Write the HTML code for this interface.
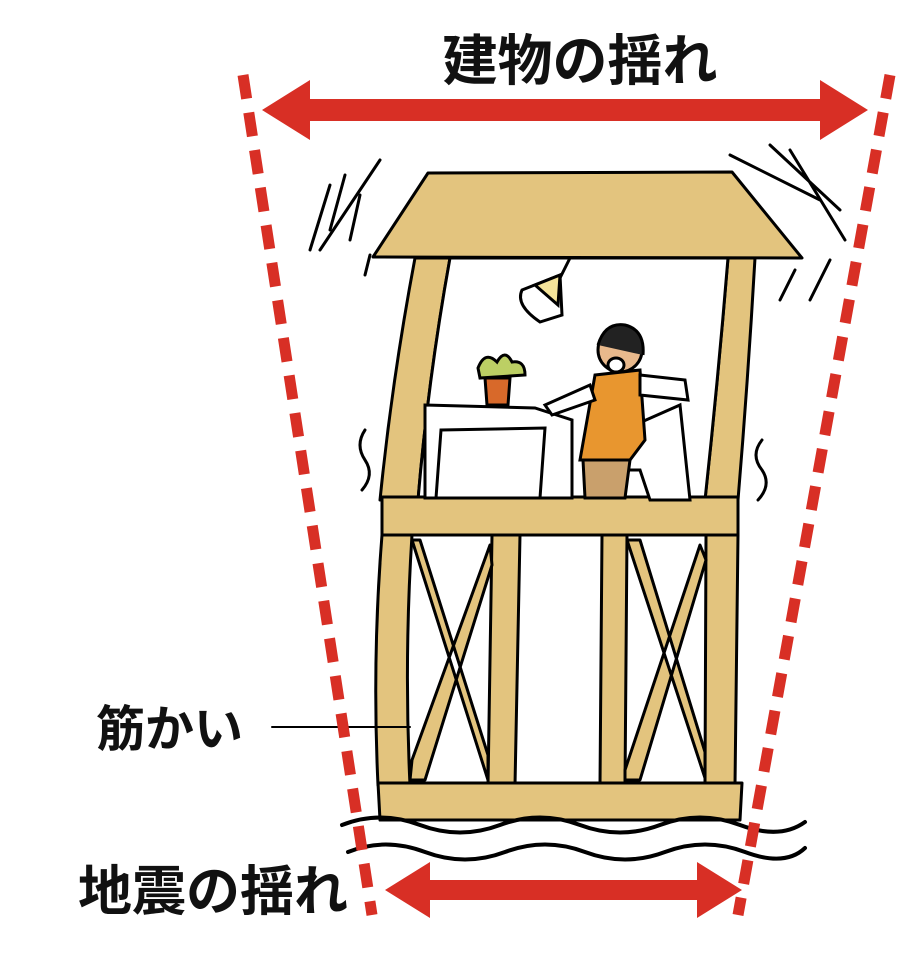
<!DOCTYPE html>
<html><head><meta charset="utf-8"><style>
html,body{margin:0;padding:0;background:#fff;}
svg{display:block}
text{font-family:"Liberation Sans","Noto Sans CJK JP",sans-serif;font-weight:bold;fill:#111}
</style></head><body>
<svg width="906" height="956" viewBox="0 0 906 956" xmlns="http://www.w3.org/2000/svg">
<g stroke="#000" stroke-width="3" stroke-linejoin="round" fill="#e3c47e">
<path d="M415,258 Q392,380 380,500 L418,500 Q428,380 450,258 Z"/>
<path d="M728,258 Q718,380 705,500 L738,500 Q748,380 755,258 Z"/>
<path d="M450,258 Q428,380 418,500 L705,500 Q718,380 728,258 Z" fill="#fff"/>
<path d="M428,173 L732,172 L802,258 L373,257 Z"/>
<path d="M382,535 Q372,660 378,785 L410,785 Q404,660 412,535 Z"/>
<path d="M492,535 L488,785 L515,785 L520,535 Z"/>
<path d="M602,535 L600,785 L625,785 L627,535 Z"/>
<path d="M706,535 L705,785 L735,785 L738,535 Z"/>
<path d="M412,540 L488,780 L488,755 L420,540 Z M412,760 L490,545 L492,565 L425,780 L410,780 Z"/>
<path d="M627,540 L705,778 L705,752 L640,540 Z M625,770 L700,545 L706,560 L640,780 L625,780 Z"/>
<rect x="382" y="497" width="356" height="38"/>
<path d="M378,783 L742,783 L740,820 L380,820 Z"/>
</g>
<g stroke="#000" stroke-width="3" fill="#fff">
<path d="M425,405 L535,408 L572,420 L572,498 L425,498 Z"/>
<path d="M441,430 L545,428 L540,498 L436,498 Z"/>
<path d="M485,378 L510,378 L508,405 L487,405 Z" fill="#d8692a"/>
<path d="M478,368 Q485,350 497,362 Q505,348 512,362 Q525,360 525,375 L480,378 Z" fill="#bccf64"/>
<path d="M522,290 L560,275 L562,315 L540,322 Q515,305 522,290 Z" fill="#fff"/>
<path d="M535,285 L560,275 L558,305 Z" fill="#f5e49a"/>
<path d="M570,258 L560,278" fill="none"/>
<path d="M612,435 L680,405 L690,500 L650,500 L640,470 L618,470 Z" fill="#fff"/>
<path d="M595,375 L640,370 L645,440 L630,460 L580,460 Z" fill="#e8962f"/>
<path d="M583,460 L630,460 L625,498 L585,498 Z" fill="#c9a06c"/>
<circle cx="620" cy="350" r="22" fill="#e9b98c"/>
<path d="M598,345 Q605,322 625,325 Q645,330 643,355" fill="#222"/>
<ellipse cx="616" cy="365" rx="8" ry="7"/>
<path d="M640,375 L685,380 L688,400 L640,395 Z"/>
<path d="M590,385 L545,405 L552,415 L595,400 Z"/>
</g>
<g stroke="#000" stroke-width="3" fill="none" stroke-linecap="round">
<path d="M330,185 L310,250 M345,175 L330,230 M360,195 L350,240 M380,160 L320,250 M370,255 L365,275"/>
<path d="M770,145 L840,210 M730,155 L820,200 M790,150 L845,240 M795,270 L780,300 M830,260 L810,300"/>
<path d="M365,430 Q355,445 365,460 Q375,475 362,490"/>
<path d="M762,440 Q750,455 762,470 Q772,485 758,500"/>
<path d="M342,825 Q380,810 420,825 T500,825 T580,825 T660,825 T740,825 T805,822" stroke-width="4"/>
<path d="M348,852 Q385,837 425,852 T505,852 T585,852 T665,852 T745,852 T805,848" stroke-width="4"/>
<path d="M272,727 L410,727" stroke-width="2"/>
</g>
<g stroke="#d82f25" stroke-width="11" stroke-dasharray="24 14" fill="none">
<path d="M243,75 L372,915"/>
<path d="M890,75 L738,915"/>
</g>
<g fill="#d82f25">
<path d="M262,110 L310,80 L310,99 L820,99 L820,80 L868,110 L820,140 L820,121 L310,121 L310,140 Z"/>
<path d="M385,890 L430,862 L430,880 L697,880 L697,862 L742,890 L697,918 L697,900 L430,900 L430,918 Z"/>
</g>
<text x="580" y="80" font-size="55" text-anchor="middle">建物の揺れ</text>
<text x="78" y="910" font-size="54">地震の揺れ</text>
<text x="96" y="746" font-size="49">筋かい</text>
</svg>
</body></html>
